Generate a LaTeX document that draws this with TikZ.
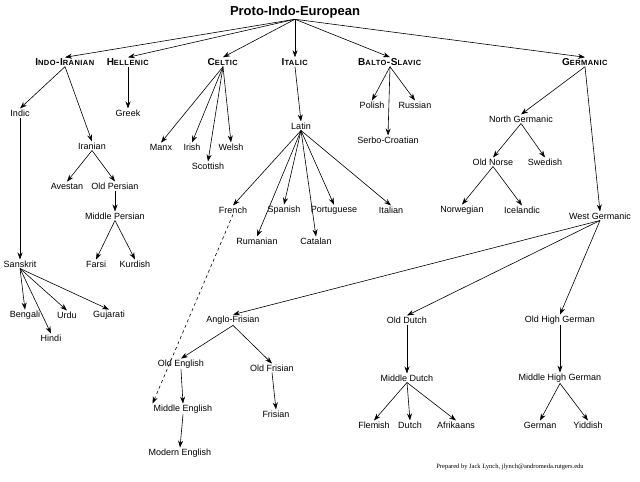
\documentclass[tikz,border=0pt]{standalone}
\usepackage{fontspec}
\setmainfont{Liberation Sans}
\newfontfamily\credfont{Liberation Serif}
\usetikzlibrary{arrows.meta}
\newcommand{\hsc}[2]{\textbf{#1{\fontsize{7.5}{8}\selectfont #2}}}
\begin{document}
\begin{tikzpicture}[x=1pt,y=-1pt,
  lang/.style={inner sep=1pt,font=\fontsize{9}{10}\selectfont},
  head/.style={inner sep=1pt,font=\fontsize{10}{11}\selectfont\addfontfeatures{LetterSpace=6}},
  arr/.style={-{Stealth[length=7pt,width=5pt]},line width=0.6pt}]
\useasboundingbox (0,0) rectangle (640,482);
\node[inner sep=1pt,font=\bfseries\fontsize{13}{14}\selectfont] (pie) at (295,12) {Proto-Indo-European};
\node[head] (ii) at (65,62) {\hsc{I}{NDO}\hsc{-I}{RANIAN}};
\node[head] (hel) at (128,62) {\hsc{H}{ELLENIC}};
\node[head] (cel) at (223,62) {\hsc{C}{ELTIC}};
\node[head] (ita) at (295,62) {\hsc{I}{TALIC}};
\node[head] (bs) at (390,62) {\hsc{B}{ALTO}\hsc{-S}{LAVIC}};
\node[head] (ger) at (585,62) {\hsc{G}{ERMANIC}};
\node[lang] (indic) at (20,113) {Indic};
\node[lang] (greek) at (128,113) {Greek};
\node[lang] (iran) at (92,146) {Iranian};
\node[lang] (ave) at (67,186) {Avestan};
\node[lang] (op) at (115,186) {Old Persian};
\node[lang] (mp) at (115,216) {Middle Persian};
\node[lang] (farsi) at (96,264) {Farsi};
\node[lang] (kurd) at (135,264) {Kurdish};
\node[lang] (manx) at (161,147) {Manx};
\node[lang] (irish) at (192,147) {Irish};
\node[lang] (welsh) at (231,147) {Welsh};
\node[lang] (scot) at (208,166) {Scottish};
\node[lang] (latin) at (301,126) {Latin};
\node[lang] (french) at (233,210) {French};
\node[lang] (span) at (284,210) {Spanish};
\node[lang] (port) at (334,210) {Portuguese};
\node[lang] (ital) at (391,210) {Italian};
\node[lang] (rum) at (257,241) {Rumanian};
\node[lang] (cat) at (316,241) {Catalan};
\node[lang] (pol) at (372,105) {Polish};
\node[lang] (rus) at (415,105) {Russian};
\node[lang] (sc) at (388,140) {Serbo-Croatian};
\node[lang] (ng) at (521,119) {North Germanic};
\node[lang] (on) at (493,162) {Old Norse};
\node[lang] (swe) at (545,162) {Swedish};
\node[lang] (nor) at (462,210) {Norwegian};
\node[lang] (ice) at (522,210) {Icelandic};
\node[lang] (wg) at (600,216) {West Germanic};
\node[lang] (skt) at (20,264) {Sanskrit};
\node[lang] (beng) at (25,315) {Bengali};
\node[lang] (hindi) at (51,338) {Hindi};
\node[lang] (urdu) at (67,315) {Urdu};
\node[lang] (guj) at (109,315) {Gujarati};
\node[lang] (af) at (233,320) {Anglo-Frisian};
\node[lang] (od) at (407,320) {Old Dutch};
\node[lang] (ohg) at (560,320) {Old High German};
\node[lang] (oe) at (181,364) {Old English};
\node[lang] (ofr) at (272,368) {Old Frisian};
\node[lang] (me) at (183,409) {Middle English};
\node[lang] (fris) at (276,414) {Frisian};
\node[lang] (mode) at (180,453) {Modern English};
\node[lang] (md) at (407,378) {Middle Dutch};
\node[lang] (flem) at (374,425) {Flemish};
\node[lang] (dutch) at (410,425) {Dutch};
\node[lang] (afr) at (456,425) {Afrikaans};
\node[lang] (mhg) at (560,378) {Middle High German};
\node[lang] (germ) at (540,425) {German};
\node[lang] (yid) at (588,425) {Yiddish};
\node[inner sep=0pt,font=\fontsize{6.5}{7}\selectfont\credfont] (cred) at (510,467) {Prepared by Jack Lynch, jlynch@andromeda.rutgers.edu};
\foreach \a/\b in {pie/ii,pie/hel,pie/cel,pie/ita,pie/bs,pie/ger,
  ii/indic,ii/iran,hel/greek,iran/ave,iran/op,op/mp,mp/farsi,mp/kurd,
  cel/manx,cel/irish,cel/welsh,cel/scot,ita/latin,
  latin/french,latin/span,latin/port,latin/ital,latin/rum,latin/cat,
  bs/pol,bs/rus,bs/sc,ger/ng,ger/wg,ng/on,ng/swe,on/nor,on/ice,
  indic/skt,skt/beng,skt/hindi,skt/urdu,skt/guj,
  wg/af,wg/od,wg/ohg,af/oe,af/ofr,oe/me,ofr/fris,me/mode,
  od/md,md/flem,md/dutch,md/afr,ohg/mhg,mhg/germ,mhg/yid}
  \draw[arr] (\a.south) -- (\b.north);
\draw[arr,dashed] (french.south) -- (me.north west);
\end{tikzpicture}
\end{document}
